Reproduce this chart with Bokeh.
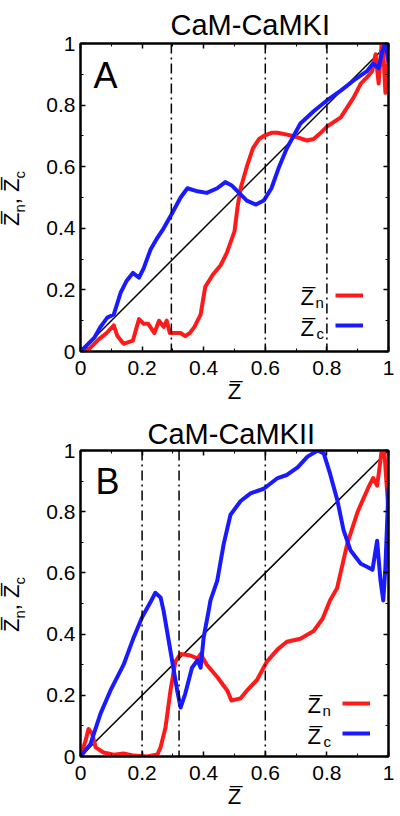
from bokeh.plotting import figure
from bokeh.models import (Range1d, FixedTicker, LinearAxis, Span, Label, Legend, LegendItem, Div)
from bokeh.layouts import column, row
from bokeh.embed import file_html
from bokeh.resources import INLINE

# ---------------- data ----------------
titles = ["CaM-CaMKI", "CaM-CaMKII"]
panel_letters = ["A", "B"]

tick_values = [0, 0.2, 0.4, 0.6, 0.8, 1]
tick_labels = ["0", "0.2", "0.4", "0.6", "0.8", "1"]
minor_values = [0.1, 0.3, 0.5, 0.7, 0.9]

diag_x = [0, 1]
diag_y = [0, 1]

# Panel A (CaM-CaMKI)
a_marks = [0.295, 0.6, 0.8]
a_xn = [0, .03, .06, .085, .108, .12, .14, .17, .19, .205, .22, .24, .255, .27, .28, .29, .31, .325, .34,
        .355, .37, .39, .405, .43, .455, .475, .50, .51, .52, .54, .56, .58, .595, .62, .64, .69, .735,
        .757, .78, .80, .845, .887, .91, .93, .947, .958, .968, .98, .99, 1.0]
a_yn = [0, .01, .04, .06, .085, .05, .025, .035, .105, .09, .09, .06, .10, .08, .10, .06, .06, .06, .05,
        .06, .08, .12, .21, .25, .28, .32, .39, .47, .53, .60, .66, .69, .70, .71, .71, .70, .685,
        .69, .71, .73, .76, .825, .87, .89, .91, .965, .87, 1.03, .84, .95]
a_xc = [0, .025, .045, .065, .087, .108, .13, .15, .17, .19, .205, .227, .25, .27, .298, .325, .347, .38,
        .41, .444, .47, .49, .52, .54, .57, .595, .62, .645, .67, .714, .757, .80, .845, .887, .93, .95,
        .968, .98, .99, 1.0]
a_yc = [0, .025, .045, .08, .11, .12, .19, .23, .255, .24, .27, .33, .37, .40, .45, .50, .53, .52,
        .515, .53, .55, .54, .51, .49, .477, .49, .53, .60, .66, .74, .78, .815, .847, .88, .91, .935,
        .92, .975, 1.0, .94]

# Panel B (CaM-CaMKII)
b_marks = [0.2, 0.32, 0.6]
b_xn = [0, .016, .026, .038, .049, .075, .108, .14, .173, .217, .25, .26, .276, .292, .308, .325, .357,
        .38, .39, .41, .444, .477, .49, .52, .54, .573, .605, .64, .67, .714, .757, .786, .81, .833,
        .866, .90, .92, .935, .95, .963, .974, .983, .99, 1.0]
b_yn = [0, .05, .09, .075, .03, .013, .006, .01, .003, 0, .007, .03, .095, .215, .31, .335, .33,
        .32, .335, .30, .26, .215, .183, .19, .215, .25, .31, .35, .375, .385, .41, .45, .51, .55,
        .695, .80, .846, .88, .91, .885, .967, 1.05, .945, .80]
b_xc = [0, .032, .065, .097, .14, .173, .2, .23, .243, .26, .27, .292, .314, .325, .34, .362, .38, .39,
        .40, .416, .422, .444, .465, .487, .52, .552, .595, .64, .67, .705, .737, .77, .79, .81, .834,
        .854, .877, .91, .93, .948, .963, .974, .983, .99, 1.0]
b_yc = [0, .04, .14, .215, .30, .39, .455, .51, .535, .52, .475, .345, .215, .16, .205, .29, .315, .29,
        .39, .476, .51, .575, .695, .79, .835, .86, .875, .91, .92, .945, .98, 1.0, .99, .925, .837,
        .74, .673, .63, .62, .61, .705, .575, .51, .62, .88]

FONT = "Liberation Sans"
ZBAR = "Z\u0305"
RED = "#ff1a1a"
BLUE = "#1a1aff"
YDIV_W = 36
TOTAL_W = 396


def lbl(p, x, y, text, size, dx=0, dy=0, align="left"):
    p.add_layout(Label(x=x, y=y, x_offset=dx, y_offset=dy, text=text,
                       text_font=FONT, text_font_size=f"{size}px", text_color="black",
                       text_align=align, text_baseline="alphabetic"))


def ylabel_div(height, top):
    zb = 'Z&#x305;'
    sub = '<span style="font-size:15px;position:relative;top:6px">{}</span>'
    html = (f'<div style="position:relative;width:{YDIV_W}px;height:{height}px;">'
            f'<div style="position:absolute;left:1px;top:{top}px;transform:rotate(-90deg);'
            'transform-origin:0 0;white-space:nowrap;font-family:\'Liberation Sans\';'
            'font-size:22px;line-height:22px;color:black;">'
            f'{zb}{sub.format("n")}, {zb}{sub.format("c")}</div></div>')
    return Div(text=html, width=YDIV_W, height=height, margin=0)


def make_panel(title, title_dx, title_standoff, letter, letter_dx, letter_dy, xn, yn, xc, yc, marks,
               height, b_top, b_bottom, leg_x, leg_y):
    p = figure(width=TOTAL_W - YDIV_W, height=height, x_range=Range1d(0, 1), y_range=Range1d(0, 1),
               output_backend="svg", toolbar_location=None,
               min_border_left=80 - YDIV_W, min_border_right=TOTAL_W - 388, min_border_top=b_top,
               min_border_bottom=b_bottom,
               background_fill_color="white", border_fill_color="white")
    p.grid.visible = False
    p.outline_line_color = "black"
    p.outline_line_width = 2

    p.title.text = title
    p.title.align = "left"
    p.title.offset = title_dx
    p.title.standoff = title_standoff
    p.title.text_font = FONT
    p.title.text_font_size = "29px"
    p.title.text_font_style = "normal"
    p.title.text_color = "black"

    ticker = FixedTicker(ticks=tick_values, minor_ticks=minor_values)
    overrides = dict(zip(tick_values, tick_labels))
    blank = {v: "" for v in tick_values}
    bottom = p.below[0]
    left = p.left[0]
    right = LinearAxis()
    top = LinearAxis()
    p.add_layout(right, "right")
    p.add_layout(top, "above")
    for ax in (bottom, left, right, top):
        ax.ticker = ticker
        ax.axis_line_width = 2
        ax.axis_line_color = "black"
        ax.major_tick_in = 5
        ax.major_tick_out = 0
        ax.minor_tick_in = 3
        ax.minor_tick_out = 0
        ax.major_tick_line_width = 1.5
        ax.major_label_text_font = FONT
        ax.major_label_text_font_size = "21px"
        ax.major_label_text_color = "black"
    bottom.major_label_overrides = overrides
    left.major_label_overrides = overrides
    bottom.major_label_standoff = 9
    left.major_label_standoff = 5
    for ax in (right, top):
        ax.major_label_overrides = blank
        ax.major_label_text_font_size = "0px"
        ax.major_label_standoff = 0
    bottom.axis_label = ZBAR
    bottom.axis_label_text_font = FONT
    bottom.axis_label_text_font_size = "22px"
    bottom.axis_label_text_font_style = "normal"
    bottom.axis_label_text_color = "black"
    bottom.axis_label_standoff = 1

    # reference vertical lines
    for m in marks:
        p.add_layout(Span(location=m, dimension="height", line_color="black", line_width=1.5,
                          line_dash="10 4 2 4"))
    # diagonal
    p.line(diag_x, diag_y, line_color="black", line_width=1.5)
    rn = p.line(xn, yn, line_color=RED, line_width=4, line_join="round")
    rc = p.line(xc, yc, line_color=BLUE, line_width=4, line_join="round")

    leg = Legend(items=[LegendItem(label=" ", renderers=[rn]), LegendItem(label=" ", renderers=[rc])],
                 location=(leg_x, leg_y), orientation="vertical", glyph_width=28, glyph_height=20,
                 label_width=0, label_height=20, label_standoff=0, spacing=10, padding=0, margin=0,
                 border_line_alpha=0, background_fill_alpha=0, label_text_font_size="1px")
    p.add_layout(leg)

    # panel letter
    lbl(p, 0, 1, letter, 36, dx=letter_dx, dy=letter_dy)
    # legend texts
    lx = leg_x - 35
    lbl(p, 0, 0, ZBAR, 22, dx=lx, dy=leg_y + 38)
    lbl(p, 0, 0, "n", 15, dx=lx + 15, dy=leg_y + 33)
    lbl(p, 0, 0, ZBAR, 22, dx=lx, dy=leg_y + 7)
    lbl(p, 0, 0, "c", 15, dx=lx + 16, dy=leg_y + 2)
    return p


pa = make_panel(titles[0], 90, 5, panel_letters[0], 13, -32, a_xn, a_yn, a_xc, a_yc, a_marks,
                410, 43, 59, 255, 16)
pb = make_panel(titles[1], 67, 2, panel_letters[1], 15, -31, b_xn, b_yn, b_xc, b_yc, b_marks,
                406, 40, 60, 262, 13)

ya = ylabel_div(410, 226)
yb = ylabel_div(406, 222)

layout = column(row(ya, pa, spacing=0), row(yb, pb, spacing=0), spacing=0)
open("out.html", "w").write(file_html(layout, INLINE))
